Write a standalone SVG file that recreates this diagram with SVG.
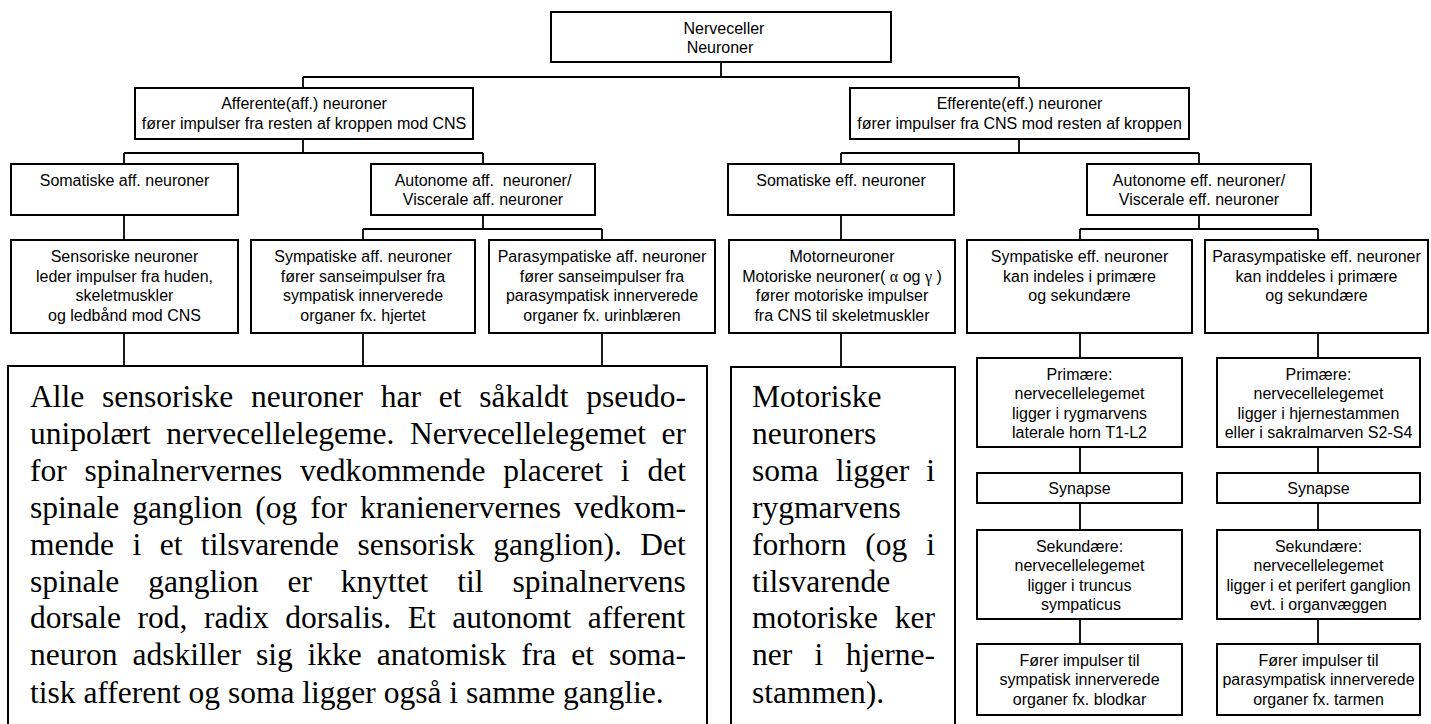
<svg xmlns="http://www.w3.org/2000/svg" width="1431" height="724" viewBox="0 0 1431 724">
  <style>
    .box { fill: #fff; stroke: #000; stroke-width: 2; }
    .wire { fill: none; stroke: #000; stroke-width: 1.8; }
    .t { font-family: "Liberation Sans", Arial, sans-serif; font-size: 16px; text-anchor: middle; fill: #000; }
    .big { font-family: "Liberation Serif", "Times New Roman", serif; font-size: 31.5px; fill: #000; }
    .greek { font-family: "Liberation Serif", "Times New Roman", serif; }
  </style>
  <rect width="1431" height="724" fill="#fff"/>

  <!-- connectors -->
  <g id="connectors" class="wire">
    <path d="M721 62 V77 M303 77 H1019 M303 77 V88 M1019 77 V88"/>
    <path d="M303 139 V153 M124 153 H483 M124 153 V164 M483 153 V164"/>
    <path d="M1019 139 V153 M841 153 H1199 M841 153 V164 M1199 153 V164"/>
    <path d="M124 215 V240"/>
    <path d="M483 215 V229 M363 229 H602 M363 229 V240 M602 229 V240"/>
    <path d="M841 215 V240"/>
    <path d="M1199 215 V229 M1080 229 H1318 M1080 229 V240 M1318 229 V240"/>
    <path d="M124 333 V366 M363 333 V366 M602 333 V366 M841 333 V367"/>
    <path d="M1080 333 V358 M1318 333 V358"/>
    <path d="M1080 447 V473 M1318 447 V473"/>
    <path d="M1080 503 V530 M1318 503 V530"/>
    <path d="M1080 619 V644 M1318 619 V644"/>
  </g>

  <!-- level 0 -->
  <g id="nerveceller">
    <rect class="box" x="551" y="12" width="340" height="50"/>
    <text class="t" x="724" y="34">Nerveceller</text>
    <text class="t" x="720" y="53">Neuroner</text>
  </g>

  <!-- level 1 -->
  <g id="afferente">
    <rect class="box" x="135" y="88" width="338" height="51"/>
    <text class="t" x="304" y="109">Afferente(aff.) neuroner</text>
    <text class="t" x="304" y="129">fører impulser fra resten af kroppen mod CNS</text>
  </g>
  <g id="efferente">
    <rect class="box" x="850" y="88" width="339" height="51"/>
    <text class="t" x="1019.5" y="109">Efferente(eff.) neuroner</text>
    <text class="t" x="1019.5" y="129">fører impulser fra CNS mod resten af kroppen</text>
  </g>

  <!-- level 2 -->
  <g id="somatiske-aff">
    <rect class="box" x="11" y="164" width="227" height="51"/>
    <text class="t" x="124.5" y="186">Somatiske aff. neuroner</text>
  </g>
  <g id="autonome-aff">
    <rect class="box" x="371" y="164" width="224" height="51"/>
    <text class="t" x="483" y="186" style="white-space:pre">Autonome aff.  neuroner/</text>
    <text class="t" x="483" y="205">Viscerale aff. neuroner</text>
  </g>
  <g id="somatiske-eff">
    <rect class="box" x="728" y="164" width="226" height="51"/>
    <text class="t" x="841" y="186">Somatiske eff. neuroner</text>
  </g>
  <g id="autonome-eff">
    <rect class="box" x="1087" y="164" width="224" height="51"/>
    <text class="t" x="1199" y="186">Autonome eff. neuroner/</text>
    <text class="t" x="1199" y="205">Viscerale eff. neuroner</text>
  </g>

  <!-- level 3 -->
  <g id="sensoriske">
    <rect class="box" x="11" y="240" width="227" height="93"/>
    <text class="t" x="124.5" y="262">Sensoriske neuroner</text>
    <text class="t" x="124.5" y="281.5">leder impulser fra huden,</text>
    <text class="t" x="124.5" y="301">skeletmuskler</text>
    <text class="t" x="124.5" y="320.5">og ledbånd mod CNS</text>
  </g>
  <g id="sympatiske-aff">
    <rect class="box" x="251" y="240" width="224" height="93"/>
    <text class="t" x="363" y="262">Sympatiske aff. neuroner</text>
    <text class="t" x="363" y="281.5">fører sanseimpulser fra</text>
    <text class="t" x="363" y="301">sympatisk innerverede</text>
    <text class="t" x="363" y="320.5">organer fx. hjertet</text>
  </g>
  <g id="parasympatiske-aff">
    <rect class="box" x="489" y="240" width="226" height="93"/>
    <text class="t" x="602" y="262">Parasympatiske aff. neuroner</text>
    <text class="t" x="602" y="281.5">fører sanseimpulser fra</text>
    <text class="t" x="602" y="301">parasympatisk innerverede</text>
    <text class="t" x="602" y="320.5">organer fx. urinblæren</text>
  </g>
  <g id="motorneuroner">
    <rect class="box" x="729" y="240" width="226" height="93"/>
    <text class="t" x="842" y="262">Motorneuroner</text>
    <text class="t" x="842" y="281.5">Motoriske neuroner( <tspan class="greek">α</tspan> og <tspan class="greek">γ</tspan> )</text>
    <text class="t" x="842" y="301">fører motoriske impulser</text>
    <text class="t" x="842" y="320.5">fra CNS til skeletmuskler</text>
  </g>
  <g id="sympatiske-eff">
    <rect class="box" x="967" y="240" width="225" height="93"/>
    <text class="t" x="1079.5" y="262">Sympatiske eff. neuroner</text>
    <text class="t" x="1079.5" y="281.5">kan indeles i primære</text>
    <text class="t" x="1079.5" y="301">og sekundære</text>
  </g>
  <g id="parasympatiske-eff">
    <rect class="box" x="1205" y="240" width="223" height="93"/>
    <text class="t" x="1316.5" y="262">Parasympatiske eff. neuroner</text>
    <text class="t" x="1316.5" y="281.5">kan inddeles i primære</text>
    <text class="t" x="1316.5" y="301">og sekundære</text>
  </g>

  <!-- afferent note -->
  <g id="note-afferent">
    <rect class="box" x="8" y="366" width="699" height="370"/>
    <text class="big" x="30" y="407" style="word-spacing:9.9px">Alle sensoriske neuroner har et såkaldt pseudo-</text>
    <text class="big" x="30" y="443.9" style="word-spacing:7.6px">unipolært nervecellelegeme. Nervecellelegemet er</text>
    <text class="big" x="30" y="480.8" style="word-spacing:9.96px">for spinalnervernes vedkommende placeret i det</text>
    <text class="big" x="30" y="517.7" style="word-spacing:5.06px">spinale ganglion (og for kranienervernes vedkom-</text>
    <text class="big" x="30" y="554.6" style="word-spacing:10.6px">mende i et tilsvarende sensorisk ganglion). Det</text>
    <text class="big" x="30" y="591.5" style="word-spacing:21.1px">spinale ganglion er knyttet til spinalnervens</text>
    <text class="big" x="30" y="628.4" style="word-spacing:8.7px">dorsale rod, radix dorsalis. Et autonomt afferent</text>
    <text class="big" x="30" y="665.3" style="word-spacing:7.1px">neuron adskiller sig ikke anatomisk fra et soma-</text>
    <text class="big" x="30" y="703">tisk afferent og soma ligger også i samme ganglie.</text>
  </g>

  <!-- motor note -->
  <g id="note-motor">
    <rect class="box" x="731" y="367" width="224" height="370"/>
    <text class="big" x="752" y="407">Motoriske</text>
    <text class="big" x="752" y="443.9">neuroners</text>
    <text class="big" x="752" y="480.8" style="word-spacing:9.3px">soma ligger i</text>
    <text class="big" x="752" y="517.7">rygmarvens</text>
    <text class="big" x="752" y="554.6" style="word-spacing:11px">forhorn (og i</text>
    <text class="big" x="752" y="591.5">tilsvarende</text>
    <text class="big" x="752" y="628.4" style="word-spacing:8.9px">motoriske ker</text>
    <text class="big" x="752" y="665.3" style="word-spacing:14.5px">ner i hjerne-</text>
    <text class="big" x="752" y="703">stammen).</text>
  </g>

  <!-- sympathetic chain -->
  <g id="primaere-sym">
    <rect class="box" x="977" y="358" width="205" height="89"/>
    <text class="t" x="1079.5" y="379.5">Primære:</text>
    <text class="t" x="1079.5" y="399">nervecellelegemet</text>
    <text class="t" x="1079.5" y="418.5">ligger i rygmarvens</text>
    <text class="t" x="1079.5" y="438">laterale horn T1-L2</text>
  </g>
  <g id="synapse-sym">
    <rect class="box" x="977" y="473" width="205" height="30"/>
    <text class="t" x="1079.5" y="494">Synapse</text>
  </g>
  <g id="sekundaere-sym">
    <rect class="box" x="977" y="530" width="205" height="89"/>
    <text class="t" x="1079.5" y="551.5">Sekundære:</text>
    <text class="t" x="1079.5" y="571">nervecellelegemet</text>
    <text class="t" x="1079.5" y="590.5">ligger i truncus</text>
    <text class="t" x="1081" y="610">sympaticus</text>
  </g>
  <g id="maal-sym">
    <rect class="box" x="977" y="644" width="205" height="71"/>
    <text class="t" x="1079.5" y="665.5">Fører impulser til</text>
    <text class="t" x="1079.5" y="685">sympatisk innerverede</text>
    <text class="t" x="1079.5" y="704.5">organer fx. blodkar</text>
  </g>

  <!-- parasympathetic chain -->
  <g id="primaere-para">
    <rect class="box" x="1217" y="358" width="203" height="89"/>
    <text class="t" x="1318.5" y="379.5">Primære:</text>
    <text class="t" x="1318.5" y="399">nervecellelegemet</text>
    <text class="t" x="1318.5" y="418.5">ligger i hjernestammen</text>
    <text class="t" x="1318.5" y="438">eller i sakralmarven S2-S4</text>
  </g>
  <g id="synapse-para">
    <rect class="box" x="1217" y="473" width="203" height="30"/>
    <text class="t" x="1318.5" y="494">Synapse</text>
  </g>
  <g id="sekundaere-para">
    <rect class="box" x="1217" y="530" width="203" height="89"/>
    <text class="t" x="1318.5" y="551.5">Sekundære:</text>
    <text class="t" x="1318.5" y="571">nervecellelegemet</text>
    <text class="t" x="1318.5" y="590.5">ligger i et perifert ganglion</text>
    <text class="t" x="1318.5" y="610">evt. i organvæggen</text>
  </g>
  <g id="maal-para">
    <rect class="box" x="1217" y="644" width="203" height="71"/>
    <text class="t" x="1318.5" y="665.5">Fører impulser til</text>
    <text class="t" x="1318.5" y="685">parasympatisk innerverede</text>
    <text class="t" x="1318.5" y="704.5">organer fx. tarmen</text>
  </g>
</svg>
